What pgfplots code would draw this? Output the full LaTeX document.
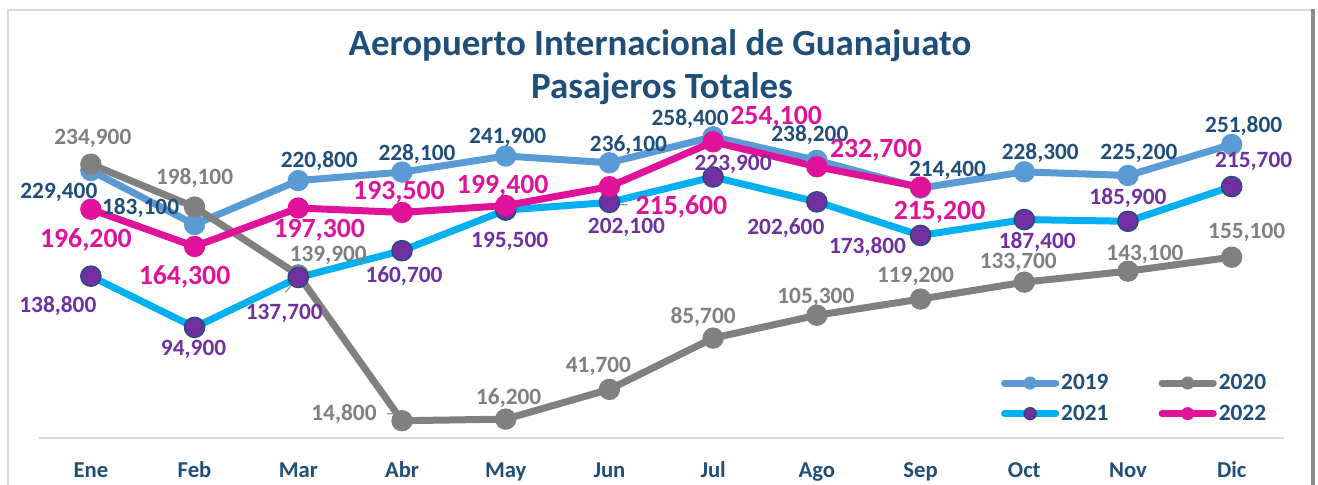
\documentclass[border=0pt]{standalone}
\usepackage{fontspec}
\setmainfont{Carlito}
\usepackage{pgfplots}
\usepackage{pgfplotstable}
\pgfplotsset{compat=1.18}

\definecolor{c19}{HTML}{5B9BD5}
\definecolor{c20}{HTML}{808080}
\definecolor{c21}{HTML}{00B0F0}
\definecolor{c21m}{HTML}{7030A0}
\definecolor{c22}{HTML}{E0129A}
\definecolor{navy}{HTML}{1F4E79}
\definecolor{framegray}{HTML}{D9D9D9}

% x = month index, y = passengers, dx/dy = label offset in px (dy down)
\pgfplotstableread{
x y dx dy
0 229400 -32 22
1 183100 -54 -17
2 220800 21 -20
3 228100 15 -18
4 241900 2 -19
5 236100 19 -18
6 258400 -23 -18
7 238200 -7 -25
8 214400 27 -18
9 228300 16 -19
10 225200 11 -22
11 251800 12 -18
}\tA
\pgfplotstableread{
x y dx dy
0 234900 2 -26
1 198100 0 -29
2 139900 30 -19
3 14800 -58 -7
4 16200 3 -21
5 41700 -11 -23
6 85700 -10 -21
7 105300 -1 -18
8 119200 -5 -23
9 133700 -6 -20
10 143100 17 -17
11 155100 15 -25
}\tB
\pgfplotstableread{
x y dx dy
0 138800 -33 30
1 94900 -1 22
2 137700 -14 36
3 160700 2 25
4 195500 4 31
5 202100 17 25
6 223900 20 -13
7 202600 -31 26
8 173800 -53 12
9 187400 13 22
10 185900 0 -23
11 215700 22 -25
}\tC
\pgfplotstableread{
x y dx dy
0 196200 -5 31
1 164300 -10 30
2 197300 21 22
3 193500 -3 -20
4 199400 -3 -19
5 215600 72 20
6 254100 63 -25
7 232700 59 -16
8 215200 19 25
}\tD

\pgfplotsset{
  lbl/.style 2 args={
    only marks, mark=none,
    nodes near coords={\pgfmathprintnumber[fixed,precision=0,1000 sep={,},assume math mode=true]{\pgfplotspointmeta}},
    visualization depends on=\thisrow{dx}\as\dx,
    visualization depends on=\thisrow{dy}\as\dy,
    every node near coord/.append style={anchor=center, inner sep=0pt,
      xshift={0.75pt*(\dx)}, yshift={-0.75pt*(\dy)},
      font=\bfseries\fontsize{#2}{#2}\selectfont, text=#1},
  },
  series/.style={line width=5.25pt, line join=round, line cap=round, mark=*, mark size=7.6pt},
}

\begin{document}
\begin{tikzpicture}
\useasboundingbox (0,0) rectangle (988.5pt,363.75pt);
\fill[white] (0,0) rectangle (988.5pt,363.75pt);
% frame
\draw[framegray, line width=1.5pt] (6pt,0) -- (6pt,356.25pt) -- (984pt,356.25pt);
\draw[black!45, line width=3pt] (984.75pt,0) -- (984.75pt,357pt);

\begin{axis}[
  at={(29.25pt,35.25pt)}, anchor=south west,
  scale only axis, width=933.4pt, height=306pt,
  xmin=-0.5, xmax=11.5, ymin=0, ymax=350000,
  clip=false,
  axis y line=none, axis x line*=bottom,
  x axis line style={draw=framegray, line width=1.5pt},
  xtick={0,...,11},
  xticklabels={Ene,Feb,Mar,Abr,May,Jun,Jul,Ago,Sep,Oct,Nov,Dic},
  major tick length=0pt,
  xticklabel style={anchor=base, yshift=-30pt, text=navy,
    font=\bfseries\fontsize{17}{20}\selectfont},
  legend columns=2,
  legend cell align=left,
  legend style={at={(0.991,0.168)}, anchor=north east, draw=none, fill=white,
    text=navy, font=\bfseries\fontsize{17.5}{20}\selectfont,
    nodes={inner sep=1.5pt}, row sep=7pt,
    /tikz/every even column/.append style={column sep=36pt}},
]
\addplot[series, c19, mark options={draw=c19, fill=c19, line width=0.8pt},
  legend image code/.code={%
    \draw[c19, line width=5.25pt, line cap=round] (0cm,0cm) -- (1.35cm,0cm);
    \filldraw[fill=c19, draw=c19, line width=0.8pt] (0.675cm,0cm) circle (4.5pt);}] table[x=x,y=y] {\tA};
\addlegendentry{2019}
\addplot[series, c20, mark options={draw=c20, fill=c20, line width=0.8pt},
  legend image code/.code={%
    \draw[c20, line width=5.25pt, line cap=round] (0cm,0cm) -- (1.35cm,0cm);
    \filldraw[fill=c20, draw=c20, line width=0.8pt] (0.675cm,0cm) circle (4.5pt);}] table[x=x,y=y] {\tB};
\addlegendentry{2020}
\addplot[series, c21, mark options={draw=navy, fill=c21m, line width=1pt},
  legend image code/.code={%
    \draw[c21, line width=5.25pt, line cap=round] (0cm,0cm) -- (1.35cm,0cm);
    \filldraw[fill=c21m, draw=navy, line width=0.8pt] (0.675cm,0cm) circle (4.6pt);}] table[x=x,y=y] {\tC};
\addlegendentry{2021}
\addplot[series, c22, mark options={draw=c22, fill=c22, line width=0.8pt},
  legend image code/.code={%
    \draw[c22, line width=5.25pt, line cap=round] (0cm,0cm) -- (1.35cm,0cm);
    \filldraw[fill=c22, draw=c22, line width=0.8pt] (0.675cm,0cm) circle (4.5pt);}] table[x=x,y=y] {\tD};
\addlegendentry{2022}

% leader lines
\draw[black!40, line width=0.9pt] (axis cs:2,137700) -- (axis cs:1.8746,124836);
\draw[black!40, line width=0.9pt] (axis cs:5,213027) -- (axis cs:5.0386,200163) -- (axis cs:5.1736,200163);
\draw[black!40, line width=0.9pt] (axis cs:2.8554,20803) -- (axis cs:2.9614,20803) -- (axis cs:2.9904,14800);

% data labels
\addplot[forget plot, lbl={navy}{17.5}] table[x=x,y=y] {\tA};
\addplot[forget plot, lbl={c20}{17.5}] table[x=x,y=y] {\tB};
\addplot[forget plot, lbl={c21m}{17.5}] table[x=x,y=y] {\tC};
\addplot[forget plot, lbl={c22}{20.8}] table[x=x,y=y] {\tD};
\end{axis}

\node[anchor=base, text=navy, font=\bfseries\fontsize{27.7}{30}\selectfont] at (495pt,321.75pt) {Aeropuerto Internacional de Guanajuato};
\node[anchor=base, text=navy, font=\bfseries\fontsize{27.7}{30}\selectfont] at (496.5pt,289.5pt) {Pasajeros Totales};
\end{tikzpicture}
\end{document}
